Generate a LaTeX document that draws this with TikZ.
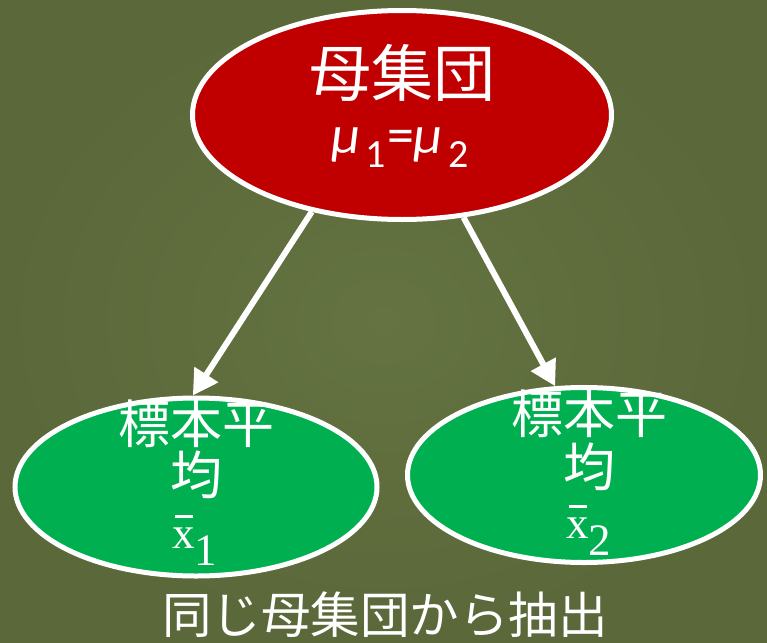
\documentclass[tikz,border=0pt]{standalone}
\usepackage{fontspec}
\newfontfamily\jp{Noto Sans CJK JP}
\newfontfamily\carl{Carlito}
\newfontfamily\serf{Liberation Serif}
\usetikzlibrary{shapes.geometric,arrows.meta}
\definecolor{bgin}{RGB}{100,115,65}
\definecolor{bgout}{RGB}{91,104,58}
\definecolor{popred}{RGB}{192,0,0}
\definecolor{smpgreen}{RGB}{0,176,80}
\tikzset{
  bubble/.style={ellipse, draw=white, line width=5pt, inner sep=0pt},
  jptext/.style={text=white, inner sep=0pt, anchor=base},
  flow/.style={draw=white, line width=6pt, -{Triangle[length=25pt,width=27pt]}},
}
\newcommand{\mysub}[1]{\hspace{5pt}\raisebox{-14pt}{\upshape\fontsize{40}{40}\selectfont #1}}
\begin{document}
\begin{tikzpicture}[x=1pt,y=-1pt]
\useasboundingbox (0,0) rectangle (767,642);
\shade[inner color=bgin, outer color=bgout] (0,0) rectangle (767,642);
% ellipses
\node[bubble, fill=popred, minimum width=419pt, minimum height=209pt] (top) at (402,115) {};
\node[bubble, fill=smpgreen, minimum width=362pt, minimum height=178pt] (left) at (196,487) {};
\node[bubble, fill=smpgreen, minimum width=353pt, minimum height=175pt] (right) at (584,475) {};
% arrows
\draw[flow] (top.227.8) -- (left.92.4);
\draw[flow] (top.-59) -- (right.108.4);
% top text
\node[jptext, anchor=base, font=\jp\fontsize{62}{62}\selectfont] (toplabel) at (402,96) {母集団};
\node[jptext, anchor=base, font=\carl\fontsize{54}{54}\selectfont] (mu) at (400,153)
  {\itshape μ\mysub{1}\hspace{1pt}\upshape=\itshape μ\mysub{2}};
% left text
\node[jptext, font=\jp\fontsize{52}{52}\selectfont] (l1) at (196,443) {標本平};
\node[jptext, font=\jp\fontsize{52}{52}\selectfont] (l2) at (196,494) {均};
\node[jptext, anchor=base west, font=\serf\fontsize{45}{45}\selectfont] (l3) at (172,548)
  {\rlap{\hspace{3pt}\raisebox{30pt}{\rule{18pt}{3.5pt}}}x\raisebox{-17pt}{1}};
% right text
\node[jptext, font=\jp\fontsize{52}{52}\selectfont] (r1) at (589,433) {標本平};
\node[jptext, font=\jp\fontsize{52}{52}\selectfont] (r2) at (589,486) {均};
\node[jptext, anchor=base west, font=\serf\fontsize{45}{45}\selectfont] (r3) at (566,538)
  {\rlap{\hspace{3pt}\raisebox{30pt}{\rule{18pt}{3.5pt}}}x\raisebox{-17pt}{2}};
% caption
\node[jptext, font=\jp\fontsize{49.5}{49.5}\selectfont] (cap) at (385,633) {同じ母集団から抽出};
\end{tikzpicture}
\end{document}
